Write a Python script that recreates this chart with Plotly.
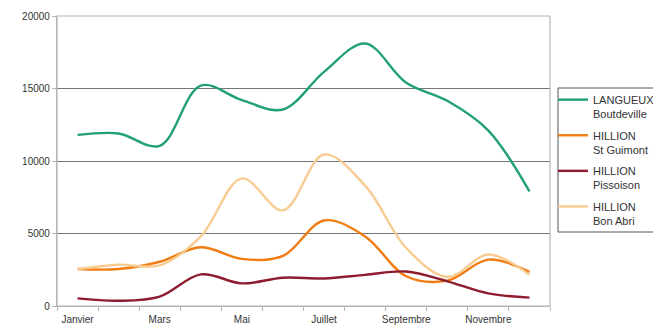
import plotly.graph_objects as go

months = ["Janvier", "Février", "Mars", "Avril", "Mai", "Juin", "Juillet",
          "Août", "Septembre", "Octobre", "Novembre", "Décembre"]
langueux = [11800, 11900, 11050, 15200, 14200, 13550, 16150, 18100, 15400, 14150, 12100, 7900]
st_guimont = [2550, 2550, 3050, 4050, 3250, 3450, 5900, 4800, 2050, 1750, 3200, 2350]
pissoison = [530, 360, 650, 2180, 1560, 1950, 1900, 2150, 2380, 1700, 870, 580]
bon_abri = [2550, 2850, 2800, 4800, 8800, 6600, 10450, 8300, 4000, 2000, 3550, 2150]
y_ticks = [0, 5000, 10000, 15000, 20000]
y_ticktext = ["0", "5000", "10000", "15000", "20000"]

series = [
    ("LANGUEUX<br>Boutdeville", langueux, "#22a173"),
    ("HILLION<br>St Guimont", st_guimont, "#f07c12"),
    ("HILLION<br>Pissoison", pissoison, "#8e1b2e"),
    ("HILLION<br>Bon Abri", bon_abri, "#f8cb92"),
]

label_months = months[0::2]
label_idx = list(range(0, 12, 2))
x_idx = list(range(len(months)))

fig = go.Figure()
for i, (name, vals, col) in enumerate(series):
    fig.add_trace(go.Scatter(
        x=x_idx, y=vals, name=name, mode="lines", legendgroup="g%d" % i,
        line=dict(color=col, width=2.4, shape="spline", smoothing=1.0),
        customdata=months, hovertemplate="%{customdata}: %{y}<extra></extra>",
    ))

font = "Liberation Sans, Arial, sans-serif"

# page has an 8px body margin, so the figure is 653x321 placed at (8, 8)
W, H = 653, 321
L, T = 49, 8
pw, ph = 493.0, 290.0
R = W - L - int(pw)
B = H - T - int(ph)

def px(xf):
    return (xf - L) / pw

def py(yf):
    return (T + ph - yf) / ph

shapes = [
    dict(type="rect", xref="paper", yref="paper", x0=0, x1=1, y0=0, y1=1,
         line=dict(color="#b5b5b5", width=1.2), layer="above"),
    # legend frame
    dict(type="rect", xref="paper", yref="paper", x0=px(550), x1=px(649),
         y0=py(224), y1=py(80), line=dict(color="#555555", width=1), fillcolor="white",
         layer="below"),
]

fig.update_layout(
    width=W, height=H,
    margin=dict(l=L, r=R, t=T, b=B, autoexpand=False),
    paper_bgcolor="white", plot_bgcolor="white",
    font=dict(family=font, size=10, color="#333333"),
    showlegend=True,
    legend=dict(
        x=px(545), y=py(78), xanchor="left", yanchor="top",
        borderwidth=0, bgcolor="rgba(0,0,0,0)",
        font=dict(family=font, size=11, color="#333333"),
        valign="top", tracegroupgap=4, itemwidth=30,
    ),
    shapes=shapes,
    xaxis=dict(
        range=[-0.5, 11.5], tickmode="array", tickvals=label_idx, ticktext=label_months,
        showgrid=False, zeroline=False, ticks="", showline=True, linecolor="#b5b5b5",
        linewidth=1.2, automargin=False, ticklabelstandoff=4,
        tickfont=dict(family=font, size=10, color="#333333"),
        minor=dict(ticks="outside", tick0=-0.5, dtick=1, ticklen=4,
                   tickcolor="#b5b5b5", tickwidth=1, showgrid=False),
    ),
    yaxis=dict(
        range=[0, 20000], tickmode="array", tickvals=y_ticks, ticktext=y_ticktext,
        showgrid=True, gridcolor="#757575", gridwidth=1.3, zeroline=False,
        ticks="outside", ticklen=4, tickcolor="#b5b5b5", showline=True,
        linecolor="#b5b5b5", linewidth=1.2, automargin=False,
        tickfont=dict(family=font, size=10, color="#333333"),
    ),
)

fig.write_html("out.html")
